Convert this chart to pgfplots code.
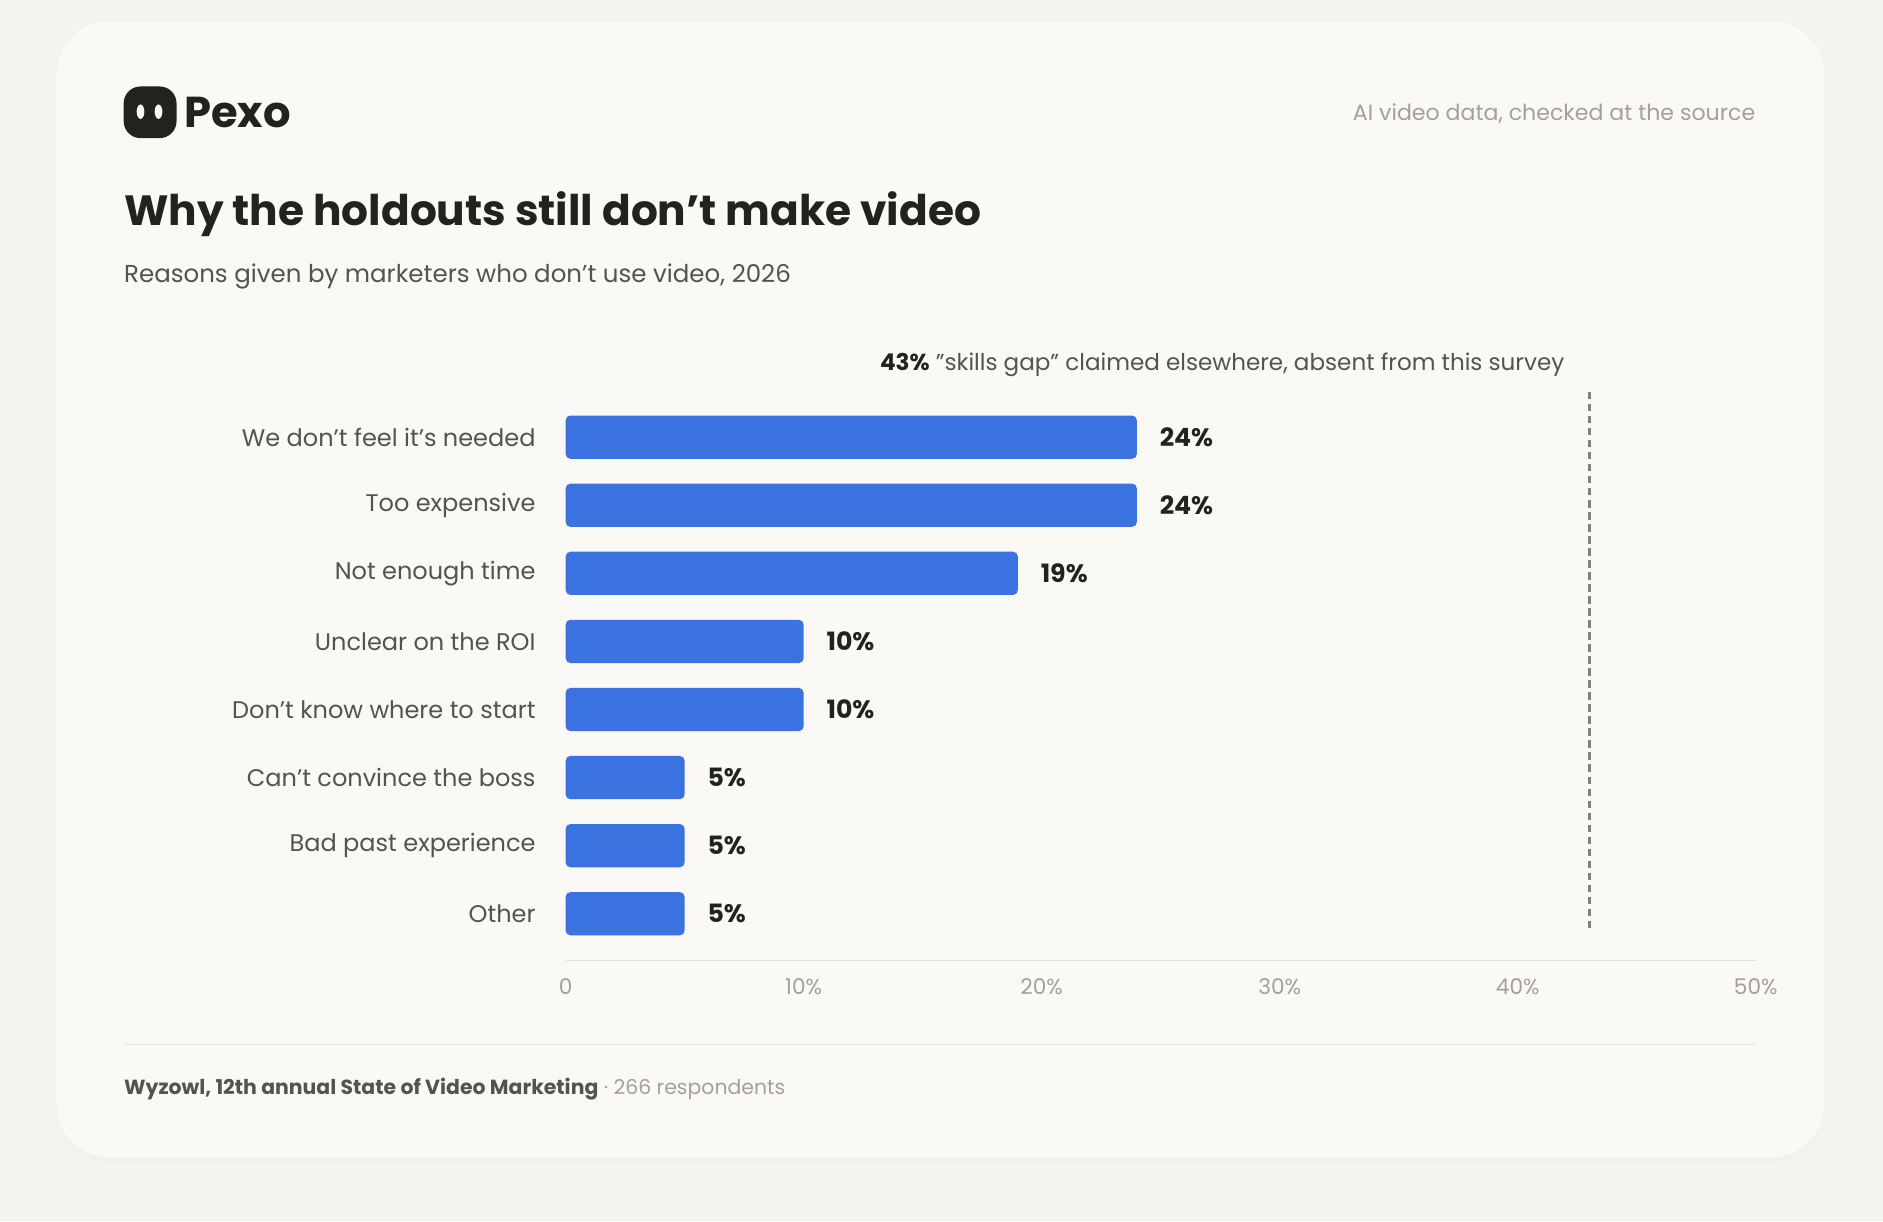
\documentclass[border=0pt]{standalone}
\usepackage{pgfplots}
\pgfplotsset{compat=1.18}
\usepackage{fontspec}
\setmainfont{Poppins}
\definecolor{bg}{HTML}{F4F3EE}
\definecolor{card}{HTML}{FAF9F5}
\definecolor{bar}{HTML}{3A72E0}
\definecolor{ink}{HTML}{23221F}
\definecolor{sub}{HTML}{55534E}
\definecolor{mute}{HTML}{A3A198}
\begin{document}
\begin{tikzpicture}
\begin{scope}[x=0.5pt,y=-0.5pt]
\fill[bg] (0,0) rectangle (1568,1017);
\fill[black!6,rounded corners=22pt] (47,21) rectangle (1519,967);
\fill[card,rounded corners=22pt] (47,18) rectangle (1519,964);
% logo
\fill[ink,rounded corners=7pt] (103,72) rectangle (147,115);
\fill[card] (117,93) ellipse (3.2 and 6);
\fill[card] (132,93) ellipse (3.2 and 6);
\node[anchor=west,font=\fontsize{18}{20}\selectfont\bfseries,text=ink,inner sep=0] at (153,94) {Pexo};
\node[anchor=east,font=\fontsize{9.2}{11}\selectfont,text=mute,inner sep=0] at (1462,95) {AI video data, checked at the source};
\node[anchor=west,font=\fontsize{17.6}{22}\selectfont\bfseries,text=ink,inner sep=0] at (103,178) {Why the holdouts still don't make video};
\node[anchor=west,font=\fontsize{10.2}{12}\selectfont,text=sub,inner sep=0] at (103,230) {Reasons given by marketers who don't use video, 2026};
\node[anchor=east,font=\fontsize{9.6}{12}\selectfont,text=sub,inner sep=0] at (1303,304) {\textbf{\color{ink}43\%} "skills gap" claimed elsewhere, absent from this survey};
\draw[black!10] (103,870) -- (1462,870);
\node[anchor=west,font=\fontsize{8.5}{11}\selectfont,text=mute,inner sep=0] at (103,907) {\textbf{\color{sub}Wyzowl, 12th annual State of Video Marketing} · 266 respondents};
\end{scope}
\begin{axis}[at={(235.5pt,-400pt)},anchor=south west,scale only axis,
 width=495.5pt,height=235pt,
 xmin=0,xmax=50,ymin=-0.6,ymax=7.69,y dir=reverse,
 axis line style={draw=none},
 xtick={0,10,20,30,40,50},xticklabels={0,10\%,20\%,30\%,40\%,50\%},
 x tick label style={font=\fontsize{9}{11}\selectfont,text=mute,yshift=-4pt},
 /pgf/number format/assume math mode=true,
 ytick={0,...,7},
 yticklabels={We don't feel it's needed,Too expensive,Not enough time,Unclear on the ROI,Don't know where to start,Can't convince the boss,Bad past experience,Other},
 y tick label style={font=\fontsize{10}{12}\selectfont,text=sub,xshift=-9pt},
 major tick length=0pt,tick style={draw=none},
 clip=false]
\draw[black!12] (axis cs:0,7.69) -- (axis cs:50,7.69);
\addplot[xbar,bar width=18pt,fill=bar,draw=none,rounded corners=2pt,
 nodes near coords={\pgfmathprintnumber{\pgfplotspointmeta}\%},
 nodes near coords style={font=\fontsize{10.5}{12}\selectfont\bfseries,text=ink,xshift=6pt}]
 coordinates {(24,0) (24,1) (19,2) (10,3) (10,4) (5,5) (5,6) (5,7)};
\addplot[mute!80!black,line width=1.2pt,dash pattern=on 3pt off 2pt] coordinates {(43,-0.66) (43,7.25)};
\end{axis}
\end{tikzpicture}
\end{document}
